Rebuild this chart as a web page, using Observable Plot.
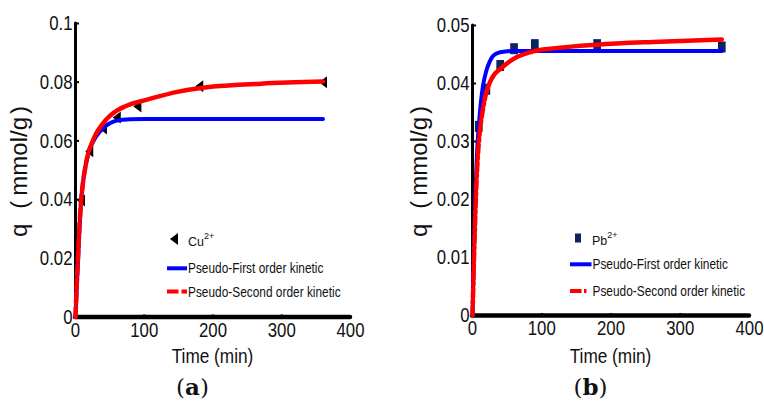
<!DOCTYPE html>
<html>
<head>
<meta charset="utf-8">
<script src="https://cdn.jsdelivr.net/npm/d3@7"></script>
<script src="https://cdn.jsdelivr.net/npm/@observablehq/plot@0.6"></script>
<style>
  body { margin: 0; background: #fff; }
  #wrap { position: relative; width: 764px; height: 401px; overflow: hidden; background: #fff; }
  .panel { position: absolute; top: 0; }
  #overlay { position: absolute; left: 0; top: 0; pointer-events: none; }
</style>
</head>
<body>
<div id="wrap">
  <div id="pa" class="panel" style="left:0"></div>
  <div id="pb" class="panel" style="left:382px"></div>
  <svg id="overlay" width="764" height="401"></svg>
</div>
<script>
// ---------- data (a) Cu2+ ----------
const cuTime = [8, 20, 40, 60, 90, 180, 360];
const cuQ    = [0.0397, 0.0565, 0.0642, 0.068, 0.0717, 0.0786, 0.0800];
const cuFitTime = [0, 2, 4, 6, 8, 10, 15, 20, 30, 40, 50, 60, 80, 100, 150, 200, 270, 360];
const cuPFO = [0, 0.011, 0.021, 0.031, 0.039, 0.044, 0.052, 0.0567, 0.0615, 0.0643, 0.066, 0.0669, 0.0674, 0.0675, 0.0675, 0.0675, 0.0675, 0.0675];
const cuPSO = [0, 0.012, 0.022, 0.032, 0.039, 0.044, 0.052, 0.057, 0.0625, 0.066, 0.0685, 0.0703, 0.0725, 0.0738, 0.0768, 0.0785, 0.0795, 0.0802];
const yTicksA = [0, 0.02, 0.04, 0.06, 0.08, 0.1];
const yLabelsA = ["0", "0.02", "0.04", "0.06", "0.08", "0.1"];

// ---------- data (b) Pb2+ ----------
const pbTime = [9, 20, 40, 60, 90, 180, 360];
const pbQ    = [0.0326, 0.039, 0.0431, 0.046, 0.0467, 0.0467, 0.0463];
const pbFitTime = [0, 2, 4, 6, 8, 10, 15, 20, 25, 30, 40, 60, 90, 120, 180, 270, 360];
const pbPFO = [0, 0.011, 0.020, 0.0265, 0.031, 0.034, 0.0395, 0.0422, 0.0438, 0.0448, 0.0454, 0.0456, 0.0456, 0.0456, 0.0456, 0.0456, 0.0456];
const pbPSO = [0, 0.009, 0.017, 0.0235, 0.028, 0.031, 0.0355, 0.0385, 0.0402, 0.0413, 0.0425, 0.0443, 0.0456, 0.0461, 0.0467, 0.0472, 0.0476];
const yTicksB = [0, 0.01, 0.02, 0.03, 0.04, 0.05];
const yLabelsB = ["0", "0.01", "0.02", "0.03", "0.04", "0.05"];

// ---------- shared ----------
const xTicks = [0, 100, 200, 300, 400];
const xLabels = ["0", "100", "200", "300", "400"];
const xTitle = "Time  (min)";
const yTitleParts = ["q", "(", "mmol/g", ")"];
const legendA = ["Cu", "2+", "Pseudo-First order kinetic", "Pseudo-Second order kinetic"];
const legendB = ["Pb", "2+", "Pseudo-First order kinetic", "Pseudo-Second order kinetic"];
const panelLabels = ["a", "b"];

const FONT = '"Liberation Sans", Arial, sans-serif';
const NARROW = 0.8;

const leftTriangle = {
  draw(ctx, size) {
    const s = Math.sqrt(size / Math.PI);
    ctx.moveTo(-0.67 * s, 0);
    ctx.lineTo(0.67 * s, -s);
    ctx.lineTo(0.67 * s, s);
    ctx.closePath();
  }
};
const tallSquare = {
  draw(ctx, size) {
    const s = Math.sqrt(size / Math.PI);
    ctx.rect(-0.7 * s, -s, 1.4 * s, 2 * s);
  }
};

function panel(o) {
  const fit = o.fitT.map((t, i) => ({t, pfo: o.pfo[i], pso: o.pso[i]}));
  const pts = o.ptT.map((t, i) => ({t, q: o.ptQ[i]}));
  const yMap = new Map(o.yTicks.map((d, i) => [d, o.yLabels[i]]));
  const xMap = new Map(xTicks.map((d, i) => [d, xLabels[i]]));
  const svg = Plot.plot({
    width: 382,
    height: 370,
    marginLeft: o.ml, marginRight: o.mr, marginTop: o.mt, marginBottom: o.mb,
    style: {fontFamily: FONT, background: "transparent", overflow: "visible"},
    x: {domain: [0, 400]},
    y: {domain: [0, o.yTicks[o.yTicks.length - 1]]},
    marks: [
      Plot.axisY({ticks: o.yTicks, tickSize: 0, tickPadding: 3, label: null, fontSize: 21,
                  tickFormat: d => yMap.get(d), fill: "#111"}),
      Plot.axisY({ticks: o.yTicks.slice(1), anchor: "right", frameAnchor: "left", tickSize: 3, strokeWidth: 2,
                  label: null, tickFormat: () => ""}),
      Plot.axisX({ticks: xTicks, tickSize: 0, tickPadding: 5, label: null, fontSize: 21,
                  tickFormat: d => xMap.get(d), fill: "#111"}),
      Plot.axisX({ticks: xTicks.slice(1, -1), anchor: "top", frameAnchor: "bottom", tickSize: 3, strokeWidth: 2.5,
                  label: null, tickFormat: () => ""}),
      Plot.ruleX([0], {stroke: "black", strokeWidth: 3, strokeLinecap: "round"}),
      Plot.ruleY([0], {stroke: "black", strokeWidth: 4.5, strokeLinecap: "round"}),
      Plot.dot(pts, {x: "t", y: "q", symbol: o.symbol, r: o.r, fill: o.ptColor, stroke: "none"}),
      Plot.line(fit, {x: "t", y: "pfo", stroke: "#0000ff", strokeWidth: 4, curve: "monotone-x"}),
      Plot.line(fit.filter(d => d.t <= 20), {x: "t", y: "pso", stroke: "#ff0000", strokeWidth: 4.5,
                curve: "monotone-x", strokeDasharray: o.dash}),
      Plot.line(fit.filter(d => d.t >= 20), {x: "t", y: "pso", stroke: "#ff0000", strokeWidth: 4.5,
                curve: "monotone-x", strokeLinecap: "round"})
    ]
  });
  // condensed look of the original tick labels (Arial Narrow style)
  d3.select(svg).selectAll("text").each(function() {
    const tr = this.getAttribute("transform") || "";
    this.setAttribute("transform", tr + ` scale(${NARROW},1)`);
  });
  return svg;
}

document.getElementById("pa").appendChild(panel({
  fitT: cuFitTime, pfo: cuPFO, pso: cuPSO, ptT: cuTime, ptQ: cuQ,
  yTicks: yTicksA, yLabels: yLabelsA, ml: 75, mr: 32, mt: 23, mb: 53.5,
  symbol: leftTriangle, r: 6, ptColor: "#000", dash: "10,4"
}));
document.getElementById("pb").appendChild(panel({
  fitT: pbFitTime, pfo: pbPFO, pso: pbPSO, ptT: pbTime, ptQ: pbQ,
  yTicks: yTicksB, yLabels: yLabelsB, ml: 90, mr: 15, mt: 25, mb: 55,
  symbol: tallSquare, r: 5.5, ptColor: "#0c2461", dash: "9,3,3,3"
}));

// ---------- overlay: titles, legends, panel labels ----------
const ov = d3.select("#overlay");
function yLab(x, y) {
  const t = ov.append("text").attr("transform", `translate(${x},${y}) rotate(-90)`)
    .attr("text-anchor", "start")
    .style("font-family", FONT).style("font-size", "24px").attr("fill", "#111");
  t.append("tspan").text(yTitleParts[0]);
  t.append("tspan").attr("dx", 15).text(yTitleParts[1]);
  t.append("tspan").attr("dx", 5).text(yTitleParts[2]);
  t.append("tspan").attr("dx", 3).text(yTitleParts[3]);
}
yLab(27, 237);
yLab(427, 237);

function narrowText(x, y, txt, size, k, anchor) {
  return ov.append("text").attr("transform", `translate(${x},${y}) scale(${k},1)`)
    .attr("text-anchor", anchor || "start")
    .style("font-family", FONT).style("font-size", size + "px").attr("fill", "#111").text(txt);
}
narrowText(212.5, 363, xTitle, 21, 0.82, "middle");
narrowText(610.5, 363, xTitle, 21, 0.82, "middle");

function pLab(x, letter) {
  const t = ov.append("text").attr("x", x).attr("y", 395).attr("text-anchor", "middle")
    .style("font-family", '"DejaVu Serif", "Liberation Serif", serif').style("font-size", "23px").attr("fill", "#111");
  t.append("tspan").text("(");
  t.append("tspan").attr("font-weight", "bold").text(letter);
  t.append("tspan").text(")");
}
pLab(192.5, panelLabels[0]);
pLab(590.5, panelLabels[1]);

function legend(o) {
  if (o.kind === "tri") {
    ov.append("polygon").attr("points", `${o.mx - 4},${o.my} ${o.mx + 4},${o.my - 6} ${o.mx + 4},${o.my + 6}`).attr("fill", "#000");
  } else {
    ov.append("rect").attr("x", o.mx - 3).attr("y", o.my - 4.5).attr("width", 6).attr("height", 9).attr("fill", "#0c2461");
  }
  const t = ov.append("text").attr("x", o.tx).attr("y", o.my + 7)
    .style("font-family", FONT).style("font-size", "12.5px").attr("fill", "#111");
  t.append("tspan").text(o.labels[0]);
  t.append("tspan").attr("dy", -7).style("font-size", "9px").text(o.labels[1]);
  ov.append("line").attr("x1", o.lx1).attr("x2", o.lx2).attr("y1", o.by).attr("y2", o.by)
    .attr("stroke", "#0000ff").attr("stroke-width", 4);
  narrowText(o.tx2, o.by + 5, o.labels[2], 14.5, 0.82);
  ov.append("line").attr("x1", o.lx1).attr("x2", o.lx2).attr("y1", o.ry).attr("y2", o.ry)
    .attr("stroke", "#ff0000").attr("stroke-width", 4).attr("stroke-dasharray", o.dash);
  narrowText(o.tx2, o.ry + 5, o.labels[3], 14.5, 0.82);
}
legend({kind: "tri", mx: 174, my: 239, tx: 188, labels: legendA, lx1: 167, lx2: 187, by: 268.3, ry: 291.5, tx2: 188, dash: "11.5,3"});
legend({kind: "sq", mx: 578, my: 238, tx: 592, labels: legendB, lx1: 570, lx2: 591.5, by: 264.3, ry: 291, tx2: 592.5, dash: "11.5,2.5,2.5,10"});
</script>
</body>
</html>
